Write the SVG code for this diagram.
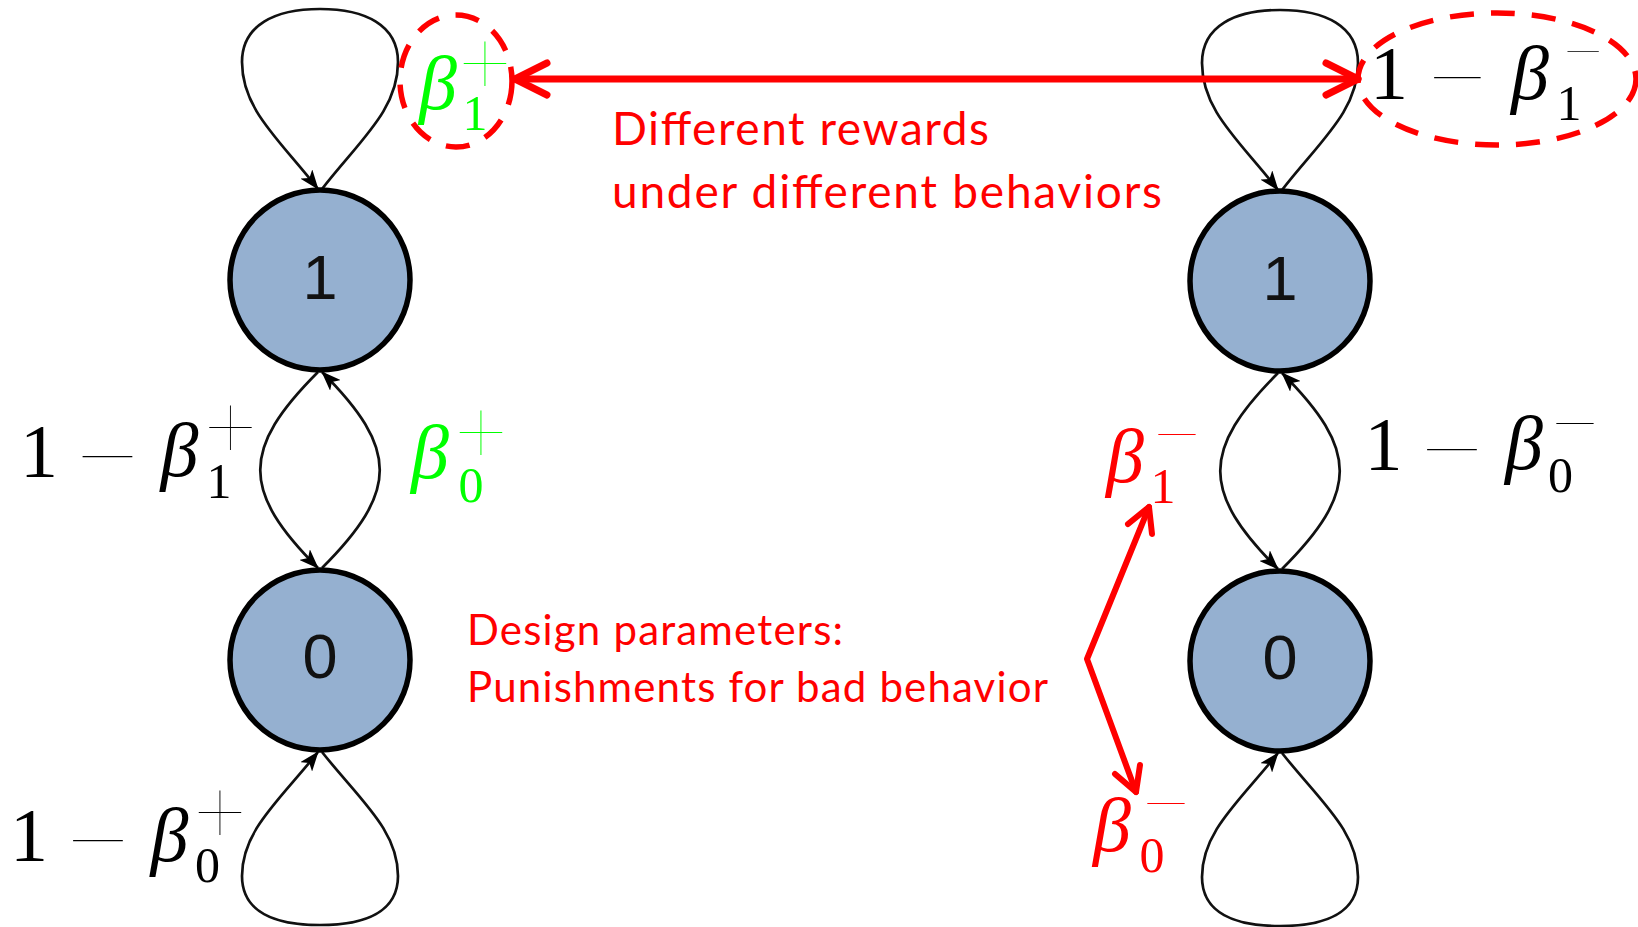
<svg xmlns="http://www.w3.org/2000/svg" width="1638" height="927" viewBox="0 0 1638 927">
  <defs>
    <style>
      .node circle { fill: #95B0D0; stroke: #000; stroke-width: 5.5; }
      .node text { font-family: "Liberation Sans", Arial, sans-serif; font-size: 63px; text-anchor: middle; fill: #111; }
      .edge { fill: none; stroke: #111; stroke-width: 2.7; marker-end: url(#tip); }
      .red { fill: none; stroke: #FF0000; stroke-width: 7; stroke-linecap: round; stroke-linejoin: round; }
      .red.thin { stroke-width: 6; }
      .hl { fill: none; stroke: #FF0000; stroke-width: 5.5; stroke-dasharray: 24 17; }
      .m { font-family: "Liberation Serif", "Times New Roman", serif; text-anchor: middle; fill: #000; }
      .m.g { fill: #00FF00; }
      .m.r { fill: #FF0000; }
      .big { font-size: 76px; }
      .it { font-style: italic; }
      .scr { font-size: 50px; }
      .sign { font-family: Lato, "Liberation Sans", sans-serif; font-weight: 200; }
      .op { font-size: 124px; }
      .op.s { font-size: 116px; }
      .sup { font-size: 92px; }
      .supm { font-size: 93px; }
      .supm.s { font-size: 78px; }
      .note { font-family: Lato, "Liberation Sans", sans-serif; fill: #FF0000; }
    </style>
    <marker id="tip" viewBox="0 0 20 15" markerUnits="userSpaceOnUse" markerWidth="20" markerHeight="15" refX="19" refY="7.5" orient="auto">
      <path d="M0,0 L20,7.5 L0,15 L5,7.5 z" fill="#000"/>
    </marker>
  </defs>

  <rect width="1638" height="927" fill="#fff"/>

  <!-- transitions -->
  <g id="connectors">
    <!-- left chain -->
    <path class="edge" d="M322,189 C360,140 398,110 398,62 C398,25 365,9 320,9 C275,9 242,25 242,62 C242,110 280,140 318,189"/>
    <path class="edge" d="M318,372 C241,449 241,491 318,568"/>
    <path class="edge" d="M322,568 C399,491 399,449 322,372"/>
    <path class="edge" d="M322,752 C360,800 398,830 398,876 C398,912 365,925 320,925 C275,925 242,912 242,876 C242,830 280,800 318,752"/>
    <!-- right chain -->
    <path class="edge" d="M1282,190 C1320,141 1358,111 1358,63 C1358,26 1325,10 1280,10 C1235,10 1202,26 1202,63 C1202,111 1240,141 1278,190"/>
    <path class="edge" d="M1278,373 C1201,450 1201,492 1278,569"/>
    <path class="edge" d="M1282,569 C1359,492 1359,450 1282,373"/>
    <path class="edge" d="M1282,753 C1320,801 1358,831 1358,877 C1358,913 1325,926 1280,926 C1235,926 1202,913 1202,877 C1202,831 1240,801 1278,753"/>

    <!-- annotation arrows -->
    <path class="red" d="M515,79 L1358,79"/>
    <path class="red" d="M547,63 L515,79 L547,95"/>
    <path class="red" d="M1326,63 L1358,79 L1326,95"/>
    <path class="red thin" d="M1149,507 L1087,659 L1136,792"/>
    <path class="red thin" d="M1128,524 L1149,507 L1152,534"/>
    <path class="red thin" d="M1115,774 L1136,792 L1140,765"/>

    <!-- highlighted labels -->
    <ellipse class="hl" cx="456" cy="81" rx="56" ry="66"/>
    <ellipse class="hl" cx="1497" cy="79" rx="139" ry="66"/>
  </g>

  <!-- states -->
  <g id="node-left-1" class="node">
    <circle cx="320" cy="280" r="90"/>
    <text x="320" y="299">1</text>
  </g>
  <g id="node-left-0" class="node">
    <circle cx="320" cy="660" r="90"/>
    <text x="320" y="678">0</text>
  </g>
  <g id="node-right-1" class="node">
    <circle cx="1280" cy="281" r="90"/>
    <text x="1280" y="300">1</text>
  </g>
  <g id="node-right-0" class="node">
    <circle cx="1280" cy="661" r="90"/>
    <text x="1280" y="679">0</text>
  </g>

  <!-- transition probabilities -->
  <g id="labels">
    <!-- 1 - beta_1^+ -->
    <text id="p-left-10" class="m"><tspan class="big" x="39" y="477">1</tspan><tspan class="sign op" x="107.5" y="498">−</tspan><tspan class="big it" x="179.5" y="476">β</tspan><tspan class="sign sup" x="230.5" y="458">+</tspan><tspan class="scr" x="219" y="498">1</tspan></text>

    <!-- beta_0^+ -->
    <text id="p-left-01" class="m g"><tspan class="big it" x="430" y="478">β</tspan><tspan class="sign sup" x="481" y="463">+</tspan><tspan class="scr" x="471" y="502">0</tspan></text>

    <!-- 1 - beta_0^+ -->
    <text id="p-left-00" class="m"><tspan class="big" x="29" y="861">1</tspan><tspan class="sign op" x="98" y="882">−</tspan><tspan class="big it" x="169.5" y="861">β</tspan><tspan class="sign sup" x="220" y="843">+</tspan><tspan class="scr" x="207.5" y="882">0</tspan></text>

    <!-- beta_1^+ -->
    <text id="p-left-11" class="m g"><tspan class="big it" x="438" y="109">β</tspan><tspan class="sign sup" x="485" y="94">+</tspan><tspan class="scr" x="475" y="130">1</tspan></text>

    <!-- 1 - beta_1^- -->
    <text id="p-right-11" class="m"><tspan class="big" x="1389" y="99">1</tspan><tspan class="sign op s" x="1457.5" y="117">−</tspan><tspan class="big it" x="1530" y="99">β</tspan><tspan class="sign supm s" x="1583" y="77.5">−</tspan><tspan class="scr" x="1569" y="120">1</tspan></text>

    <!-- beta_1^- -->
    <text id="p-right-10" class="m r"><tspan class="big it" x="1125" y="482">β</tspan><tspan class="sign supm" x="1177" y="464.5">−</tspan><tspan class="scr" x="1163" y="503">1</tspan></text>

    <!-- 1 - beta_0^- -->
    <text id="p-right-01" class="m"><tspan class="big" x="1383.5" y="470">1</tspan><tspan class="sign op" x="1452" y="491">−</tspan><tspan class="big it" x="1524" y="469">β</tspan><tspan class="sign supm" x="1575" y="453.5">−</tspan><tspan class="scr" x="1560.5" y="492">0</tspan></text>

    <!-- beta_0^- -->
    <text id="p-right-00" class="m r"><tspan class="big it" x="1112" y="851">β</tspan><tspan class="sign supm" x="1166" y="833.5">−</tspan><tspan class="scr" x="1152" y="872">0</tspan></text>
  </g>

  <!-- notes -->
  <g id="notes">
    <text class="note" x="612" y="145" font-size="46" textLength="377" lengthAdjust="spacing">Different rewards</text>
    <text class="note" x="612" y="208" font-size="46" textLength="550" lengthAdjust="spacing">under different behaviors</text>
    <text class="note" x="467" y="645" font-size="42" textLength="376" lengthAdjust="spacing">Design parameters:</text>
    <text class="note" x="467" y="702" font-size="42" textLength="581" lengthAdjust="spacing">Punishments for bad behavior</text>
  </g>
</svg>
